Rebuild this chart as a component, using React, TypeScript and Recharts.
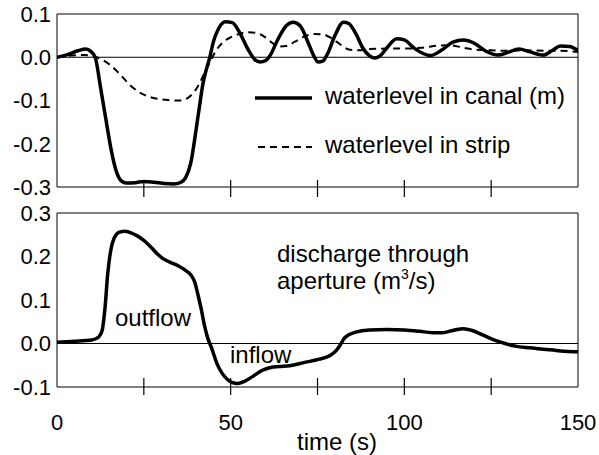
import React from 'react';
import { LineChart, Line, XAxis, YAxis, ReferenceLine, ReferenceArea, Legend } from 'recharts';

// ---- data ----
const canalTime = [0, 3, 6, 8.3, 9.8, 11, 12.5, 14, 15.5, 17, 18.5, 20, 22.5, 25, 28, 31, 33.5, 35.5, 37, 38.5, 40, 41, 42, 43, 44, 45, 46.5, 48.5, 50.5, 52.5, 55, 57, 58.5, 60, 61.5, 63.5, 66, 68, 70, 72.5, 74, 75.2, 76.5, 78, 80, 82.5, 84, 86, 88, 90, 91.5, 93, 95, 97.8, 100, 103, 107.5, 111, 114, 117, 120, 123.5, 127, 130, 133, 136, 140, 142.5, 145, 147.5, 150];
const canalLevel = [0, 0.006, 0.015, 0.019, 0.013, 0, -0.068, -0.14, -0.21, -0.262, -0.286, -0.291, -0.29, -0.287, -0.289, -0.292, -0.293, -0.29, -0.279, -0.245, -0.17, -0.115, -0.062, -0.028, 0, 0.035, 0.066, 0.082, 0.08, 0.058, 0.018, -0.006, -0.011, -0.008, 0.006, 0.04, 0.073, 0.081, 0.073, 0.03, 0.002, -0.011, -0.009, 0.01, 0.05, 0.081, 0.078, 0.055, 0.022, 0.003, -0.002, 0.003, 0.022, 0.043, 0.04, 0.02, 0.004, 0.018, 0.035, 0.04, 0.033, 0.014, 0.005, 0.012, 0.019, 0.013, 0.005, 0.015, 0.026, 0.025, 0.016];

const stripTime = [0, 4, 8, 11, 13, 15, 17, 19, 21, 23.5, 26, 29, 32, 35.5, 37.5, 39, 40.5, 42.5, 44.5, 46, 48, 50, 52.5, 55, 57.5, 60, 62, 64, 66, 68.5, 71, 74, 76.5, 79, 81.5, 84, 87, 90, 95, 100, 105, 110, 113, 117, 120, 125, 130, 135, 140, 145, 150];
const stripLevel = [0, 0.004, 0.005, 0.001, -0.006, -0.016, -0.03, -0.047, -0.064, -0.08, -0.09, -0.096, -0.099, -0.1, -0.095, -0.085, -0.068, -0.036, -0.004, 0.018, 0.036, 0.046, 0.054, 0.058, 0.056, 0.046, 0.033, 0.025, 0.026, 0.036, 0.047, 0.054, 0.053, 0.044, 0.03, 0.018, 0.016, 0.019, 0.02, 0.02, 0.022, 0.027, 0.028, 0.022, 0.018, 0.016, 0.015, 0.016, 0.015, 0.015, 0.012];

const dischargeTime = [0, 5, 10, 12, 13, 13.8, 14.6, 15.5, 16.5, 18, 19.6, 21.5, 23, 25, 27, 29, 30.5, 32.5, 35, 37, 38.5, 39.7, 40.5, 41.5, 42.5, 43.5, 44.5, 46, 47.5, 49, 50.5, 52, 54, 56.5, 59, 61.5, 64, 67, 71, 75.5, 78.5, 80.5, 81.5, 82.5, 84, 86, 90, 95, 100, 104.5, 108, 111, 114, 117, 119.5, 122.5, 126, 129, 132, 136, 140, 145, 150];
const discharge = [0.003, 0.005, 0.008, 0.015, 0.03, 0.08, 0.16, 0.215, 0.243, 0.256, 0.258, 0.254, 0.248, 0.237, 0.222, 0.205, 0.195, 0.187, 0.178, 0.168, 0.158, 0.14, 0.115, 0.08, 0.04, 0.01, -0.01, -0.045, -0.068, -0.082, -0.09, -0.092, -0.087, -0.075, -0.062, -0.055, -0.053, -0.051, -0.044, -0.036, -0.028, -0.015, -0.004, 0.01, 0.02, 0.026, 0.031, 0.032, 0.031, 0.028, 0.025, 0.025, 0.03, 0.034, 0.03, 0.02, 0.008, 0.0, -0.006, -0.01, -0.013, -0.017, -0.019];

const xTicks = [0, 25, 50, 75, 100, 125, 150];
const xLabelTicks = [0, 50, 100, 150];
const topYTicks = [-0.3, -0.2, -0.1, 0, 0.1];
const bottomYTicks = [-0.1, 0, 0.1, 0.2, 0.3];

const canalName = 'waterlevel in canal (m)';
const stripName = 'waterlevel in strip';

const FONT = '"Liberation Sans", Arial, Helvetica, sans-serif';

const zip = (ts: number[], vs: number[]) => ts.map((t, i) => ({ t, v: vs[i] }));
const canalData = zip(canalTime, canalLevel);
const stripData = zip(stripTime, stripLevel);
const dischargeData = zip(dischargeTime, discharge);

const yTickStyle = { fontSize: 22, fill: '#000', fontFamily: FONT };
const fmt = (v: number) => v.toFixed(1);

const TopTick = (props: any) => {
  const { x, y, payload } = props;
  if (payload.value <= 0 || payload.value >= 150) return <g />;
  return <line x1={x} x2={x} y1={y - 7} y2={y + 10} stroke="#000" strokeWidth={1.2} />;
};

const BottomTick = (props: any) => {
  const { x, y, payload } = props;
  const v = payload.value;
  return (
    <g>
      {v > 0 && v < 150 ? <line x1={x} x2={x} y1={y - 9} y2={y + 8} stroke="#000" strokeWidth={1.2} /> : null}
      {xLabelTicks.includes(v) ? (
        <text x={x} y={y + 43} textAnchor="middle" fontSize={22} fontFamily={FONT} fill="#000">
          {v}
        </text>
      ) : null}
    </g>
  );
};

const renderLegend = (props: any) => {
  const payload = props.payload || [];
  return (
    <svg width={344} height={90} style={{ display: 'block' }}>
      {payload.map((entry: any, i: number) => {
        const dash = entry.payload && entry.payload.strokeDasharray;
        const sw = entry.payload && entry.payload.strokeWidth ? entry.payload.strokeWidth : 2;
        const yLine = 18 + i * 49;
        return (
          <g key={i}>
            <line x1={dash ? 3 : 0} x2={57} y1={yLine} y2={yLine} stroke="#000" strokeWidth={sw} strokeDasharray={dash} />
            <text x={70} y={yLine + 6} fontSize={24} fontFamily={FONT} fill="#000">
              {entry.value}
            </text>
          </g>
        );
      })}
    </svg>
  );
};

export default function App() {
  return (
    <div style={{ position: 'absolute', left: 0, top: 0, width: 599, height: 455, background: '#fff', fontFamily: FONT }}>
      <div style={{ position: 'absolute', left: 0, top: 0 }}>
        <LineChart width={599} height={200} margin={{ top: 14, right: 21, bottom: 0, left: 0 }}>
          <XAxis
            type="number"
            dataKey="t"
            domain={[0, 150]}
            ticks={xTicks}
            interval={0}
            tick={TopTick}
            tickSize={0}
            tickMargin={0}
            axisLine={false}
            tickLine={false}
            height={13}
            allowDataOverflow
          />
          <YAxis
            type="number"
            domain={[-0.3, 0.1]}
            ticks={topYTicks}
            interval={0}
            tickFormatter={fmt}
            tick={yTickStyle}
            tickSize={0}
            tickMargin={6}
            axisLine={false}
            tickLine={false}
            width={57}
            allowDataOverflow
          />
          <ReferenceArea x1={0} x2={150} y1={-0.3} y2={0.1} fill="none" fillOpacity={0} stroke="#000" strokeWidth={1} />
          <ReferenceLine y={0} stroke="#000" strokeWidth={1} />
          <Line data={canalData} dataKey="v" name={canalName} type="monotone" stroke="#000" strokeWidth={3.5} dot={false} activeDot={false} isAnimationActive={false} />
          <Line data={stripData} dataKey="v" name={stripName} type="monotone" stroke="#000" strokeWidth={2} strokeDasharray="7 5" dot={false} activeDot={false} isAnimationActive={false} />
          <Legend
            layout="vertical"
            align="center"
            verticalAlign="middle"
            content={renderLegend}
            wrapperStyle={{ position: 'absolute', left: 255, top: 80, width: 344, height: 90 }}
          />
        </LineChart>
      </div>
      <div style={{ position: 'absolute', left: 0, top: 200 }}>
        <LineChart width={599} height={255} margin={{ top: 13, right: 21, bottom: 0, left: 0 }}>
          <XAxis
            type="number"
            dataKey="t"
            domain={[0, 150]}
            ticks={xTicks}
            interval={0}
            tick={BottomTick}
            tickSize={0}
            tickMargin={0}
            axisLine={false}
            tickLine={false}
            height={68}
            allowDataOverflow
          />
          <YAxis
            type="number"
            domain={[-0.1, 0.3]}
            ticks={bottomYTicks}
            interval={0}
            tickFormatter={fmt}
            tick={yTickStyle}
            tickSize={0}
            tickMargin={6}
            axisLine={false}
            tickLine={false}
            width={57}
            allowDataOverflow
          />
          <ReferenceArea x1={0} x2={150} y1={-0.1} y2={0.3} fill="none" fillOpacity={0} stroke="#000" strokeWidth={1} />
          <ReferenceLine y={0} stroke="#000" strokeWidth={1} />
          <Line data={dischargeData} dataKey="v" name="discharge through aperture" type="monotone" stroke="#000" strokeWidth={3.5} dot={false} activeDot={false} isAnimationActive={false} />
        </LineChart>
        <svg width={599} height={255} style={{ position: 'absolute', left: 0, top: 0, pointerEvents: 'none' }}>
          <g fontFamily={FONT} fontSize={24} fill="#000">
            <text x={277} y={62}>discharge through</text>
            <text x={277} y={89}>aperture (m<tspan fontSize={14} dy={-10}>3</tspan><tspan dy={10}>/s)</tspan></text>
            <text x={115} y={126}>outflow</text>
            <text x={230} y={163}>inflow</text>
            <text x={337} y={250} textAnchor="middle">time (s)</text>
          </g>
        </svg>
      </div>
    </div>
  );
}
